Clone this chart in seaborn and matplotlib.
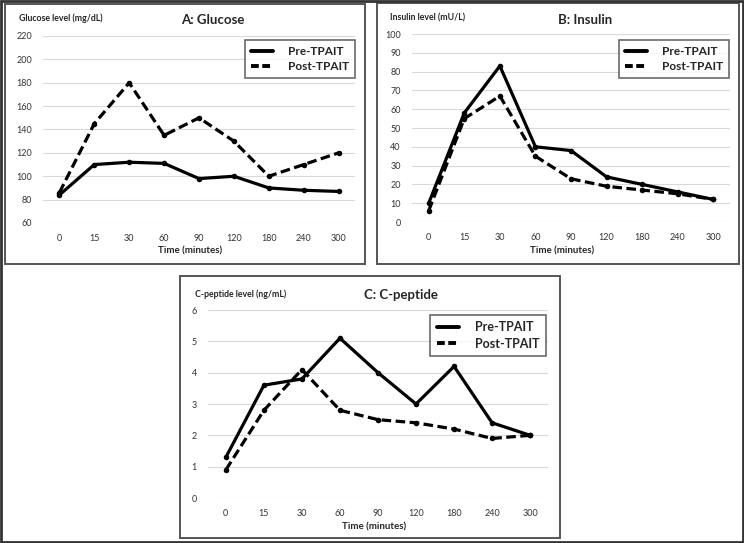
import matplotlib
matplotlib.use("Agg")
import matplotlib.pyplot as plt
import seaborn as sns
from matplotlib.patches import Rectangle

# time points (categorical x axis)
times = ["0", "15", "30", "60", "90", "120", "180", "240", "300"]

glucose_pre = [84, 110, 112, 111, 98, 100, 90, 88, 87]
glucose_post = [86, 145, 180, 135, 150, 130, 100, 110, 120]

insulin_pre = [10, 58, 83, 40, 38, 24, 20, 16, 12]
insulin_post = [6, 55, 67, 35, 23, 19, 17, 15, 12]

cpep_pre = [1.3, 3.6, 3.8, 5.1, 4.0, 3.0, 4.2, 2.4, 2.0]
cpep_post = [0.9, 2.8, 4.1, 2.8, 2.5, 2.4, 2.2, 1.9, 2.0]

series_labels = ["Pre-TPAIT", "Post-TPAIT"]

sns.set_style("white")
plt.rcParams["font.family"] = ["Lato", "DejaVu Sans"]

W, H = 744, 543
fig = plt.figure(figsize=(W / 100, H / 100), dpi=100)


def px_axes(x0, y0, x1, y1):
    # axes from pixel box (top-left origin)
    return fig.add_axes([x0 / W, 1 - y1 / H, (x1 - x0) / W, (y1 - y0) / H])


def fig_text(x, y, s, **kw):
    fig.text(x / W, 1 - y / H, s, **kw)


def border(x0, y0, x1, y1, lw=1.4, color="#555555"):
    fig.patches.append(Rectangle((x0 / W, 1 - y1 / H), (x1 - x0) / W, (y1 - y0) / H,
                                 transform=fig.transFigure, fill=False,
                                 edgecolor=color, linewidth=lw, zorder=0))


def panel(box, pre, post, ylim, yticks, legend_box, leg_fs):
    ax = px_axes(*box)
    idx = list(range(len(times)))
    sns.lineplot(x=idx, y=pre, ax=ax, color="black", lw=2.3, marker="o",
                 markersize=4, markeredgewidth=0, label=series_labels[0])
    sns.lineplot(x=idx, y=post, ax=ax, color="black", lw=2.3, marker="o",
                 markersize=4, markeredgewidth=0, ls=(0, (3, 1.4)),
                 label=series_labels[1])
    ax.set_xlim(-0.47, len(times) - 0.53)
    ax.set_ylim(*ylim)
    ax.set_yticks(yticks)
    ax.set_xticks(idx)
    ax.set_xticklabels(times)
    ax.tick_params(labelsize=6.5, colors="#333333", length=0, pad=8)
    ax.grid(axis="y", color="#d9d9d9", lw=0.8)
    ax.grid(axis="x", visible=False)
    for s in ax.spines.values():
        s.set_visible(False)
    ax.set_xlabel("")
    ax.set_ylabel("")
    lx0, ly0, lx1, ly1 = legend_box
    leg = ax.legend(loc="upper right", bbox_to_anchor=(lx1 / W, 1 - ly0 / H),
                    bbox_transform=fig.transFigure, frameon=True, fancybox=False,
                    fontsize=leg_fs, handlelength=1.8, handletextpad=1.3,
                    borderpad=0.5, labelspacing=0.35, borderaxespad=0)
    leg.get_frame().set_edgecolor("#444444")
    leg.get_frame().set_linewidth(1.2)
    for t in leg.get_texts():
        t.set_fontweight("bold")
    for i, h in enumerate(leg.get_lines()):
        h.set_marker("")
        h.set_linewidth(2.8)
        if i == 1:
            h.set_dashes((2.0, 0.9))
    return ax


# A: Glucose
panel((43, 36, 355, 223), glucose_pre, glucose_post, (60, 220),
      range(60, 221, 20), (247, 40, 355, 79), 8.5)
fig_text(19, 18, "Glucose level (mg/dL)", fontsize=6.3, fontweight="bold", va="center")
fig_text(213, 20, "A: Glucose", fontsize=9.5, fontweight="bold", ha="center", va="center")
fig_text(190, 251, "Time (minutes)", fontsize=7, fontweight="bold", ha="center", va="center")

# B: Insulin
panel((412, 34, 730, 222), insulin_pre, insulin_post, (0, 100),
      range(0, 101, 10), (619, 40, 729, 80), 8.5)
fig_text(390, 18, "Insulin level (mU/L)", fontsize=6.3, fontweight="bold", va="center")
fig_text(585, 20, "B: Insulin", fontsize=9.5, fontweight="bold", ha="center", va="center")
fig_text(562, 251, "Time (minutes)", fontsize=7, fontweight="bold", ha="center", va="center")

# C: C-peptide
panel((208, 310, 548, 498), cpep_pre, cpep_post, (0, 6),
      range(0, 7, 1), (432, 315, 546, 354), 9)
fig_text(195, 294, "C-peptide level (ng/mL)", fontsize=6.3, fontweight="bold", va="center")
fig_text(401, 295, "C: C-peptide", fontsize=9.5, fontweight="bold", ha="center", va="center")
fig_text(374, 527, "Time (minutes)", fontsize=7, fontweight="bold", ha="center", va="center")

# panel frames and outer frame
border(4.5, 3.5, 365, 264)
border(376.5, 3, 739, 264)
border(180, 276, 560, 538)
border(1, 1, 742.5, 541.5, lw=2, color="#333333")

fig.savefig("out.png", dpi=100)
